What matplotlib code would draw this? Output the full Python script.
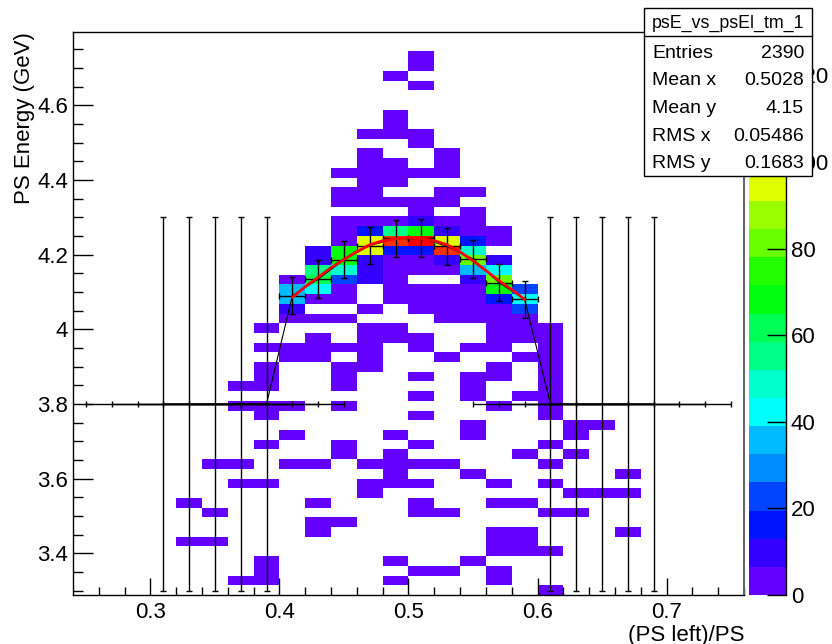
import colorsys
import numpy as np
import matplotlib
matplotlib.use("Agg")
import matplotlib.pyplot as plt
from matplotlib.colors import ListedColormap, BoundaryNorm
from matplotlib.patches import Rectangle
from matplotlib.lines import Line2D

plt.rcParams['font.family'] = ['Liberation Sans', 'DejaVu Sans']

# binning of the 2D histogram
x_edges = np.linspace(0.24, 0.76, 27)
y_edges = np.linspace(3.288, 4.796, 59)

# bin contents, one row of bins per entry (top to bottom)
row_y = [4.731, 4.705, 4.679, 4.653, 4.575, 4.549, 4.523, 4.497, 4.471, 4.445,
         4.419, 4.393, 4.367, 4.341, 4.315, 4.289, 4.263, 4.237, 4.211, 4.185,
         4.159, 4.133, 4.107, 4.081, 4.055, 4.029, 4.003, 3.977, 3.951, 3.925,
         3.899, 3.873, 3.847, 3.821, 3.795, 3.769, 3.743, 3.717, 3.691, 3.665,
         3.639, 3.613, 3.587, 3.561, 3.535, 3.509, 3.483, 3.457, 3.431, 3.405,
         3.379, 3.353, 3.327, 3.301]
row_x = [
    [0.51], [0.51], [0.49], [0.51], [0.49], [0.49],
    [0.47, 0.49, 0.51], [0.51], [0.47, 0.53], [0.47, 0.49, 0.53],
    [0.45, 0.47, 0.49, 0.51, 0.53], [0.47, 0.49], [0.45, 0.47, 0.53, 0.55],
    [0.45, 0.47, 0.49, 0.51, 0.53], [0.51, 0.55],
    [0.45, 0.47, 0.49, 0.51, 0.53, 0.55],
    [0.45, 0.47, 0.49, 0.51, 0.53, 0.55, 0.57],
    [0.45, 0.47, 0.49, 0.51, 0.53, 0.55, 0.57],
    [0.43, 0.45, 0.47, 0.49, 0.51, 0.53, 0.55],
    [0.43, 0.45, 0.47, 0.49, 0.51, 0.53, 0.55, 0.57],
    [0.43, 0.45, 0.47, 0.49, 0.51, 0.53, 0.55, 0.57],
    [0.41, 0.43, 0.45, 0.47, 0.49, 0.55, 0.57],
    [0.41, 0.43, 0.45, 0.49, 0.51, 0.53, 0.55, 0.57, 0.59],
    [0.41, 0.43, 0.45, 0.49, 0.51, 0.53, 0.55, 0.57, 0.59],
    [0.41, 0.47, 0.51, 0.53, 0.55, 0.57, 0.59],
    [0.41, 0.43, 0.45, 0.53, 0.55, 0.57, 0.59],
    [0.39, 0.47, 0.49, 0.57, 0.59, 0.61],
    [0.43, 0.47, 0.49, 0.51, 0.57, 0.59, 0.61],
    [0.39, 0.41, 0.43, 0.45, 0.47, 0.51, 0.55, 0.57, 0.61],
    [0.41, 0.43, 0.47, 0.53, 0.59, 0.61],
    [0.39, 0.45, 0.47, 0.57, 0.61],
    [0.39, 0.45, 0.51, 0.55, 0.57, 0.61],
    [0.37, 0.39, 0.45, 0.55, 0.61],
    [0.51, 0.55, 0.59, 0.61],
    [0.37, 0.39, 0.41, 0.45, 0.57, 0.61],
    [0.39, 0.51, 0.61],
    [0.55, 0.63, 0.65],
    [0.41, 0.49, 0.55, 0.63],
    [0.39, 0.45, 0.51, 0.61],
    [0.45, 0.49, 0.59, 0.63],
    [0.35, 0.37, 0.41, 0.43, 0.47, 0.49, 0.51, 0.53, 0.61],
    [0.49, 0.55, 0.67],
    [0.37, 0.39, 0.47, 0.49, 0.51, 0.57, 0.61],
    [0.47, 0.63, 0.65, 0.67],
    [0.33, 0.43, 0.51, 0.57, 0.59],
    [0.35, 0.51, 0.53, 0.61, 0.63],
    [0.43, 0.45],
    [0.43, 0.57, 0.59, 0.67],
    [0.33, 0.35, 0.57, 0.59],
    [0.57, 0.59, 0.61],
    [0.39, 0.49, 0.55],
    [0.39, 0.51, 0.53, 0.57],
    [0.37, 0.39, 0.49, 0.57],
    [0.61],
]
row_n = [
    [3], [2], [1], [2], [2], [3],
    [2, 3, 2], [3], [2, 2], [3, 2, 3],
    [2, 3, 4, 3, 2], [3, 4], [3, 4, 3, 2],
    [3, 5, 4, 5, 3], [4, 3],
    [4, 5, 6, 9, 5, 3],
    [5, 16, 55, 68, 9, 4, 2],
    [5, 94, 120, 127, 94, 16, 3],
    [9, 68, 94, 16, 16, 120, 48],
    [9, 68, 9, 5, 5, 9, 81, 9],
    [55, 48, 9, 4, 3, 3, 35, 42],
    [4, 61, 22, 9, 4, 9, 81],
    [35, 42, 4, 3, 3, 3, 4, 68, 22],
    [35, 4, 3, 3, 3, 3, 3, 16, 42],
    [9, 2, 3, 3, 3, 5, 22],
    [3, 2, 3, 3, 3, 4, 5],
    [2, 3, 2, 3, 3, 2],
    [3, 2, 2, 2, 3, 2, 3],
    [2, 3, 3, 2, 3, 2, 2, 2, 3],
    [2, 3, 2, 2, 2, 2],
    [3, 2, 2, 2, 2],
    [3, 2, 2, 2, 2, 2],
    [2, 3, 2, 2, 2],
    [2, 2, 2, 3],
    [2, 3, 2, 2, 2, 3],
    [2, 2, 2],
    [2, 2, 1],
    [1, 2, 2, 2],
    [2, 2, 2, 1],
    [2, 2, 1, 1],
    [1, 1, 2, 1, 2, 2, 2, 1, 1],
    [2, 1, 1],
    [1, 1, 2, 2, 1, 1, 1],
    [1, 1, 1, 1],
    [1, 1, 2, 1, 1],
    [1, 1, 1, 1, 1],
    [1, 1],
    [1, 2, 1, 1],
    [1, 1, 2, 2],
    [2, 1, 1],
    [1, 1, 1],
    [1, 1, 1, 1],
    [1, 2, 1, 1],
    [1],
]

# graph with errors drawn on top
left_x = [0.31, 0.33, 0.35, 0.37, 0.39]
ridge_x = [0.41, 0.43, 0.45, 0.47, 0.49, 0.51, 0.53, 0.55, 0.57, 0.59]
ridge_y = [4.090, 4.134, 4.186, 4.224, 4.243, 4.244, 4.222, 4.188, 4.125, 4.080]
right_x = [0.61, 0.63, 0.65, 0.67, 0.69]
side_y = 3.8
side_xerr, side_yerr = 0.06, 0.5
ridge_xerr, ridge_yerr = 0.01, 0.05

# fitted curve (red)
fit_x = [0.41, 0.42, 0.43, 0.44, 0.45, 0.46, 0.47, 0.48, 0.49, 0.50,
         0.51, 0.52, 0.53, 0.54, 0.55, 0.56, 0.57, 0.58, 0.59]
fit_y = [4.085, 4.114, 4.139, 4.165, 4.187, 4.208, 4.226, 4.237, 4.242, 4.246,
         4.243, 4.237, 4.226, 4.207, 4.183, 4.157, 4.130, 4.106, 4.080]

stats_names = ["Entries", "Mean x", "Mean y", "RMS x", "RMS y"]
stats_vals = ["2390", "0.5028", "4.15", "0.05486", "0.1683"]

# ROOT "pretty" palette, 20 contour levels
ncol, ndiv = 50, 20
palette = []
for k in range(ndiv):
    idx = int((k + 0.99) * ncol / ndiv)
    if idx >= ncol - 1:
        palette.append((1.0, 0.0, 0.0))
    else:
        hue = 280 - (idx + 1) * 280 / ncol
        palette.append(colorsys.hls_to_rgb(hue / 360.0, 0.5, 1.0))
cmap = ListedColormap(palette)
norm = BoundaryNorm(np.linspace(0, 130, ndiv + 1), ndiv)

W, H = 832, 644
fig = plt.figure(figsize=(W / 100, H / 100), dpi=100)
ax = fig.add_axes([73 / W, 49 / H, 671 / W, 563 / H])
cax = fig.add_axes([749 / W, 49 / H, 37 / W, 563 / H])

hx, hy, hn = [], [], []
for y, xs, ns in zip(row_y, row_x, row_n):
    hx += xs
    hy += [y] * len(xs)
    hn += ns
_, _, _, mesh = ax.hist2d(hx, hy, bins=[x_edges, y_edges], weights=hn,
                          cmap=cmap, norm=norm, cmin=0.5, zorder=1)

gx = left_x + ridge_x + right_x
gy = [side_y] * len(left_x) + ridge_y + [side_y] * len(right_x)
gxe = [side_xerr] * len(left_x) + [ridge_xerr] * len(ridge_x) + [side_xerr] * len(right_x)
gye = [side_yerr] * len(left_x) + [ridge_yerr] * len(ridge_x) + [side_yerr] * len(right_x)
ax.errorbar(gx, gy, xerr=gxe, yerr=gye, fmt='-', color='black', lw=0.8,
            elinewidth=1.0, capsize=2.5, capthick=1.0, zorder=3)
ax.plot(fit_x, fit_y, color='red', lw=2, zorder=4)

ax.set_xlim(x_edges[0], x_edges[-1])
ax.set_ylim(y_edges[0], y_edges[-1])
ax.set_xticks([0.3, 0.4, 0.5, 0.6, 0.7])
ax.set_xticklabels(["0.3", "0.4", "0.5", "0.6", "0.7"])
ax.set_xticks(np.arange(0.26, 0.7601, 0.02), minor=True)
ax.set_yticks([3.4, 3.6, 3.8, 4.0, 4.2, 4.4, 4.6])
ax.set_yticklabels(["3.4", "3.6", "3.8", "4", "4.2", "4.4", "4.6"])
ax.set_yticks(np.arange(3.30, 4.78, 0.05), minor=True)
ax.tick_params(axis='x', which='major', direction='in', length=12, width=1, pad=5)
ax.tick_params(axis='x', which='minor', direction='in', length=6, width=1)
ax.tick_params(axis='y', which='major', direction='in', length=14.5, width=1, pad=3.5)
ax.tick_params(axis='y', which='minor', direction='in', length=7.3, width=1)
ax.tick_params(labelsize=16, colors='black')
for s in ax.spines.values():
    s.set_linewidth(1)
ax.spines['right'].set_color('#666666')
ax.spines['right'].set_linewidth(1.5)

fig.text(25 / W, 1 - 32 / H, "PS Energy (GeV)", rotation=90, ha='center', va='top', fontsize=16)
fig.text(744 / W, 3 / H, "(PS left)/PS", ha='right', va='baseline', fontsize=16)

cb = fig.colorbar(mesh, cax=cax, ticks=[0, 20, 40, 60, 80, 100, 120])
cb.outline.set_visible(False)
cax.yaxis.set_ticks_position('right')
cax.tick_params(which='major', direction='in', length=14, width=1, labelsize=16, pad=3.5)
cax.minorticks_off()
cax.add_line(Line2D([1, 1], [0, 1], transform=cax.transAxes, color='black', lw=1, clip_on=False))

# statistics box
bx0, bx1, by0, by1 = 644, 812, 8, 176
fig.patches.append(Rectangle((bx0 / W, 1 - by1 / H), (bx1 - bx0) / W, (by1 - by0) / H,
                             transform=fig.transFigure, facecolor='white',
                             edgecolor='black', lw=1, zorder=5))
fig.lines.append(Line2D([bx0 / W, bx1 / W], [1 - 36 / H, 1 - 36 / H],
                        transform=fig.transFigure, color='black', lw=1, zorder=6))
fig.text((bx0 + bx1) / 2 / W, 1 - 28 / H, "psE_vs_psEl_tm_1", ha='center',
         va='baseline', fontsize=12.8, zorder=7)
for k, (name, val) in enumerate(zip(stats_names, stats_vals)):
    yb = 1 - (57.5 + 27.75 * k) / H
    fig.text(652.5 / W, yb, name, ha='left', va='baseline', fontsize=14, zorder=7)
    fig.text(804 / W, yb, val, ha='right', va='baseline', fontsize=14, zorder=7)

fig.savefig("out.png", dpi=100)
